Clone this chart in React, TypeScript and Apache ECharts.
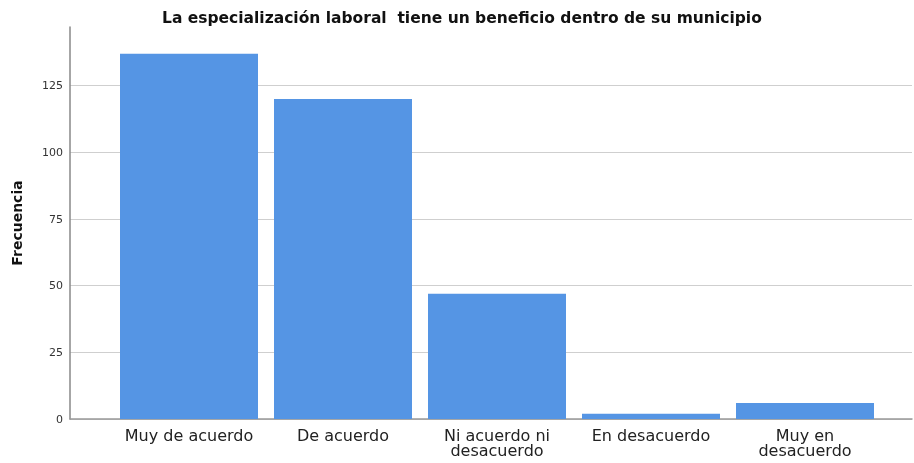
import React, { useEffect, useRef } from "react";
import * as echarts from "echarts";

const categories = ["Muy de acuerdo", "De acuerdo", "Ni acuerdo ni\ndesacuerdo", "En desacuerdo", "Muy en\ndesacuerdo"];
const frequencies = [137, 120, 47, 2, 6];
const yTicks = [0, 25, 50, 75, 100, 125];
const titleText = "La especialización laboral  tiene un beneficio dentro de su municipio";
const yName = "Frecuencia";

export default function App() {
  const ref = useRef<HTMLDivElement>(null);
  useEffect(() => {
    const chart = echarts.init(ref.current!, null, { renderer: "svg" });
    const yMax = 147;
    chart.setOption({
      animation: false,
      title: {
        text: titleText,
        left: 157,
        top: 5,
        textStyle: { fontFamily: "DejaVu Sans", fontWeight: "bold", fontSize: 15.5, color: "#111" },
      },
      grid: [
        { left: 70, right: 2, top: 27, bottom: 44 },
        { left: 112, right: 32, top: 27, bottom: 44 },
      ],
      xAxis: [
        {
          type: "value",
          gridIndex: 0,
          min: 0,
          max: 1,
          axisLine: { show: true, onZero: false, lineStyle: { color: "#999", width: 1.5 } },
          axisTick: { show: false },
          axisLabel: { show: false },
          splitLine: { show: false },
        },
        {
          type: "category",
          gridIndex: 1,
          data: categories,
          axisLine: { show: false },
          axisTick: { show: false },
          axisLabel: {
            interval: 0,
            margin: 9,
            fontFamily: "DejaVu Sans",
            fontSize: 16,
            lineHeight: 15,
            color: "#222",
            align: "center",
          },
        },
      ],
      yAxis: [
        {
          type: "value",
          gridIndex: 0,
          min: 0,
          max: yMax,
          interval: 25,
          name: yName,
          nameLocation: "middle",
          nameGap: 46,
          nameTextStyle: { fontFamily: "DejaVu Sans", fontWeight: "bold", fontSize: 14, color: "#111" },
          axisLine: { show: true, lineStyle: { color: "#888", width: 1.5 } },
          axisTick: { show: false },
          axisLabel: {
            fontFamily: "DejaVu Sans",
            fontSize: 11,
            color: "#333",
            margin: 7,
            showMaxLabel: false,
            formatter: (v: number) => (yTicks.includes(v) ? String(v) : ""),
          },
          splitLine: {
            show: true,
            lineStyle: { color: ["#cfcfcf", "#cfcfcf", "#cfcfcf", "#cfcfcf", "#cfcfcf", "#cfcfcf", "rgba(0,0,0,0)"], width: 1 },
          },
        },
        {
          type: "value",
          gridIndex: 1,
          min: 0,
          max: yMax,
          show: false,
          splitLine: { show: false },
        },
      ],
      series: [
        {
          type: "bar",
          xAxisIndex: 1,
          yAxisIndex: 1,
          data: frequencies,
          barWidth: 138,
          itemStyle: { color: "#5595e4" },
          z: 1,
        },
      ],
    });
    return () => chart.dispose();
  }, []);
  return <div ref={ref} style={{ width: 914, height: 463, position: "fixed", left: 0, top: 0 }} />;
}
